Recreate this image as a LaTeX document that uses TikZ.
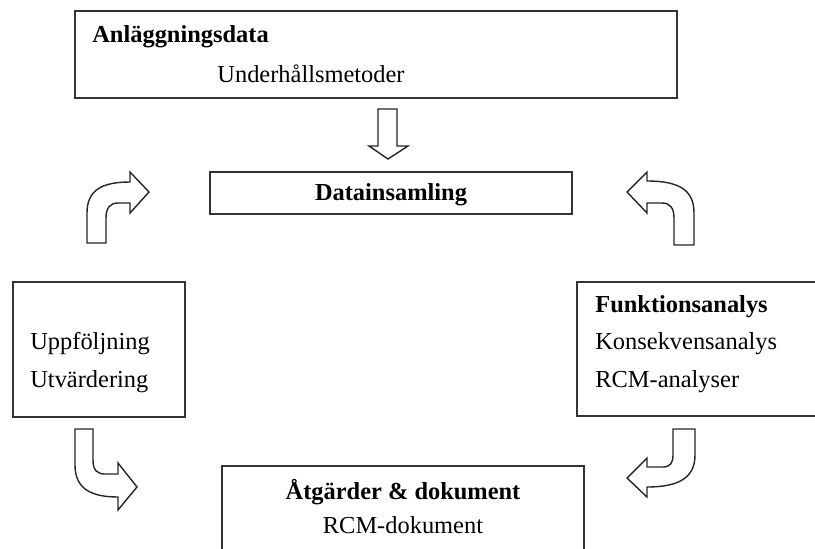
\documentclass[tikz,border=0pt]{standalone}
\usepackage{fontspec}
\setmainfont{Liberation Serif}
\begin{document}
\begin{tikzpicture}[x=0.02cm,y=-0.02cm,
  box/.style={draw=black!80,line width=1pt,rectangle,inner sep=0pt},
  txt/.style={inner sep=0pt,font=\fontsize{13.9}{16}\selectfont},
  btxt/.style={inner sep=0pt,font=\fontsize{13.9}{16}\selectfont\bfseries},
  blockarrow/.style={draw=black!85,line width=0.8pt,fill=white,line join=miter}]
\useasboundingbox (0,0) rectangle (815,548);
\clip (0,0) rectangle (815,548);
% boxes
\node[box,minimum width=12.04cm,minimum height=1.74cm] (anl) at (376,54.5) {};
\node[box,minimum width=7.24cm,minimum height=0.84cm] (data) at (391,193) {};
\node[box,minimum width=3.44cm,minimum height=2.7cm] (upp) at (99,349.5) {};
\node[box,minimum width=5.16cm,minimum height=2.68cm] (funk) at (706,349) {};
\node[box,minimum width=7.24cm,minimum height=2.08cm] (atg) at (403,518) {};
% texts
\node[btxt,anchor=west] (t1) at (92,37) {Anläggningsdata};
\node[txt] (t2) at (311,74) {Underhållsmetoder};
\node[btxt] (t3) at (391,195) {Datainsamling};
\node[txt,anchor=west] (t4) at (30,344) {Uppföljning};
\node[txt,anchor=west] (t5) at (30,382) {Utvärdering};
\node[btxt,anchor=west] (t6) at (595,307) {Funktionsanalys};
\node[txt,anchor=west] (t7) at (595,344) {Konsekvensanalys};
\node[txt,anchor=west] (t8) at (595,382) {RCM-analyser};
\node[btxt] (t9) at (403,492) {Åtgärder \& dokument};
\node[txt] (t10) at (403,525) {RCM-dokument};
% block arrows
\draw[blockarrow] (378,109) -- (397,109) -- (397,146) -- (408,146) -- (388,159) -- (369,146) -- (378,146) -- cycle;
\draw[blockarrow] (87,243) -- (87,213) .. controls (87,190) and (102,182) .. (130,182) -- (130,172) -- (149,192) -- (130,213) -- (130,203) -- (118,203) .. controls (110,203) and (106,208) .. (106,218) -- (106,243) -- cycle;
\draw[blockarrow] (694,245) -- (694,213) .. controls (694,190) and (679,181) .. (647,181) -- (647,172) -- (627,192) -- (647,213) -- (647,203) -- (662,203) .. controls (670,203) and (674,208) .. (674,218) -- (674,245) -- cycle;
\draw[blockarrow] (75,429) -- (75,465) .. controls (75,488) and (90,497) .. (118,497) -- (118,510) -- (137,487) -- (118,463) -- (118,474) -- (105,474) .. controls (97,474) and (93,470) .. (93,460) -- (93,429) -- cycle;
\draw[blockarrow] (695,429) -- (695,455) .. controls (695,477) and (680,487) .. (647,487) -- (647,497) -- (627,478) -- (647,458) -- (647,467) -- (663,467) .. controls (670,467) and (673,463) .. (673,455) -- (673,429) -- cycle;
\end{tikzpicture}
\end{document}
